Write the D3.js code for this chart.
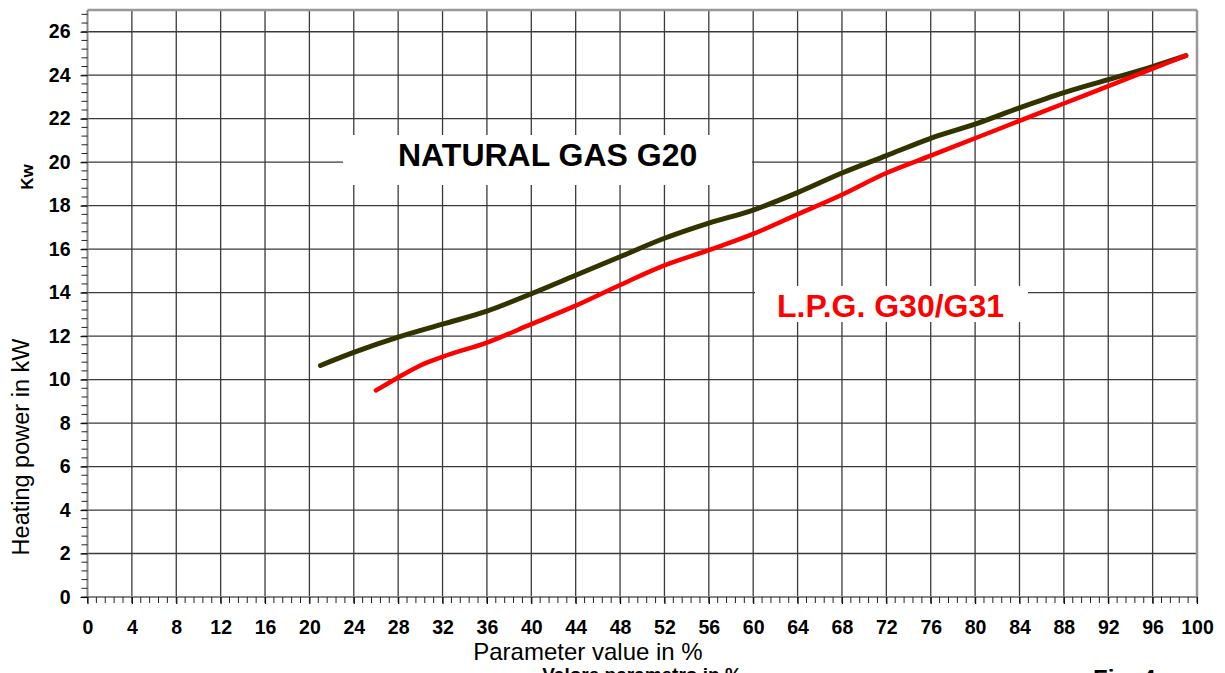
<!DOCTYPE html>
<html><head><meta charset="utf-8">
<script src="https://cdn.jsdelivr.net/npm/d3@7"></script>
<style>html,body{margin:0;padding:0;background:#fff;overflow:hidden}svg{display:block;font-family:"Liberation Sans",Arial,sans-serif}</style>
</head><body>
<svg id="c" width="1225" height="673"></svg>
<script>
// Data
const xTickValues = [0,4,8,12,16,20,24,28,32,36,40,44,48,52,56,60,64,68,72,76,80,84,88,92,96,100];
const yTickValues = [0,2,4,6,8,10,12,14,16,18,20,22,24,26];
const naturalGasX = [21,24,28,32,36,40,44,48,52,56,60,64,68,72,76,80,84,88,92,96,99];
const naturalGasY = [10.65,11.25,11.95,12.55,13.15,13.95,14.8,15.65,16.5,17.2,17.8,18.6,19.5,20.3,21.1,21.75,22.5,23.2,23.8,24.4,24.9];
const lpgX = [26,28,30,32,36,40,44,48,52,56,60,64,68,72,76,80,84,88,92,96,99];
const lpgY = [9.5,10.1,10.65,11.05,11.7,12.55,13.4,14.35,15.25,15.95,16.7,17.6,18.5,19.5,20.3,21.1,21.9,22.7,23.5,24.3,24.9];

const svg = d3.select("#c");
const x = d3.scaleLinear().domain([0,100]).range([87.5,1197]);
const y = d3.scaleLinear().domain([0,27]).range([597,10]);

// grid
const g = svg.append("g");
g.selectAll("line.v").data(xTickValues.slice(1,-1)).join("line")
  .attr("x1",d=>x(d)).attr("x2",d=>x(d)).attr("y1",y(27)).attr("y2",y(0))
  .attr("stroke","#3a3a3a").attr("stroke-width",1.3);
g.selectAll("line.h").data(yTickValues.slice(1)).join("line")
  .attr("y1",d=>y(d)).attr("y2",d=>y(d)).attr("x1",x(0)).attr("x2",x(100))
  .attr("stroke","#3a3a3a").attr("stroke-width",1.3);

// white label boxes
svg.append("rect").attr("x",343).attr("y",135).attr("width",409).attr("height",50).attr("fill","#fff");
svg.append("rect").attr("x",755).attr("y",286).attr("width",273).attr("height",36).attr("fill","#fff");

// frame
svg.append("line").attr("x1",x(0)).attr("x2",x(100)).attr("y1",y(27)).attr("y2",y(27)).attr("stroke","#999").attr("stroke-width",2.5);
svg.append("line").attr("x1",x(100)).attr("x2",x(100)).attr("y1",y(27)).attr("y2",y(0)).attr("stroke","#999").attr("stroke-width",2.5);
svg.append("line").attr("x1",x(0)).attr("x2",x(0)).attr("y1",y(27)).attr("y2",y(0)).attr("stroke","#888").attr("stroke-width",2);
svg.append("line").attr("x1",x(0)).attr("x2",x(100)).attr("y1",y(0)).attr("y2",y(0)).attr("stroke","#888").attr("stroke-width",2);

// minor ticks
const yMinor = d3.range(0,27.01,0.4);
svg.append("g").selectAll("line").data(yMinor).join("line")
  .attr("x1",x(0)-6).attr("x2",x(0)).attr("y1",d=>y(d)).attr("y2",d=>y(d))
  .attr("stroke","#222").attr("stroke-width",1);
const xMinor = d3.range(0,100.01,0.8);
svg.append("g").selectAll("line").data(xMinor).join("line")
  .attr("x1",d=>x(d)).attr("x2",d=>x(d)).attr("y1",y(0)).attr("y2",y(0)+6)
  .attr("stroke","#222").attr("stroke-width",1);

// axes
const yAxis = svg.append("g").attr("transform",`translate(${x(0)},0)`)
  .call(d3.axisLeft(y).tickValues(yTickValues).tickSize(7).tickPadding(10));
const xAxis = svg.append("g").attr("transform",`translate(0,${y(0)})`)
  .call(d3.axisBottom(x).tickValues(xTickValues).tickSize(7).tickPadding(16));
[yAxis,xAxis].forEach(a=>{
  a.select(".domain").remove();
  a.selectAll(".tick line").attr("stroke","#111").attr("stroke-width",1.2);
  a.selectAll(".tick text").attr("fill","#000").style("font-size","19.5px").style("font-weight","bold")
   .style("font-family","'Liberation Sans',Arial,sans-serif");
});

// lines
const line = d3.line().x(d=>x(d[0])).y(d=>y(d[1])).curve(d3.curveMonotoneX);
svg.append("path").datum(naturalGasX.map((v,i)=>[v,naturalGasY[i]]))
  .attr("d",line).attr("fill","none").attr("stroke","#333300").attr("stroke-width",5).attr("stroke-linecap","round");
svg.append("path").datum(lpgX.map((v,i)=>[v,lpgY[i]]))
  .attr("d",line).attr("fill","none").attr("stroke","#ff0000").attr("stroke-width",4.5).attr("stroke-linecap","round");

// annotations
svg.append("text").attr("x",398).attr("y",166).text("NATURAL GAS G20")
  .style("font-size","32px").style("font-weight","bold").attr("fill","#000");
svg.append("text").attr("x",777).attr("y",317).text("L.P.G. G30/G31")
  .style("font-size","32px").style("font-weight","bold").attr("fill","#ff0000");

// axis titles
svg.append("text").attr("x",588).attr("y",660).attr("text-anchor","middle").text("Parameter value in %")
  .style("font-size","24px").attr("fill","#000");
svg.append("text").attr("x",642).attr("y",681).attr("text-anchor","middle").text("Valore parametro in %")
  .style("font-size","19px").style("font-weight","bold").attr("fill","#000");
svg.append("text").attr("x",1093).attr("y",687).text("Fig. 4")
  .style("font-size","24px").style("font-weight","bold").attr("fill","#000");
svg.append("text").attr("transform","translate(29,447) rotate(-90)").attr("text-anchor","middle")
  .text("Heating power in kW").style("font-size","23.5px").attr("fill","#000");
svg.append("text").attr("transform","translate(33,177) rotate(-90)").attr("text-anchor","middle")
  .text("Kw").style("font-size","17px").style("font-weight","bold").attr("fill","#000");
</script>
</body></html>
